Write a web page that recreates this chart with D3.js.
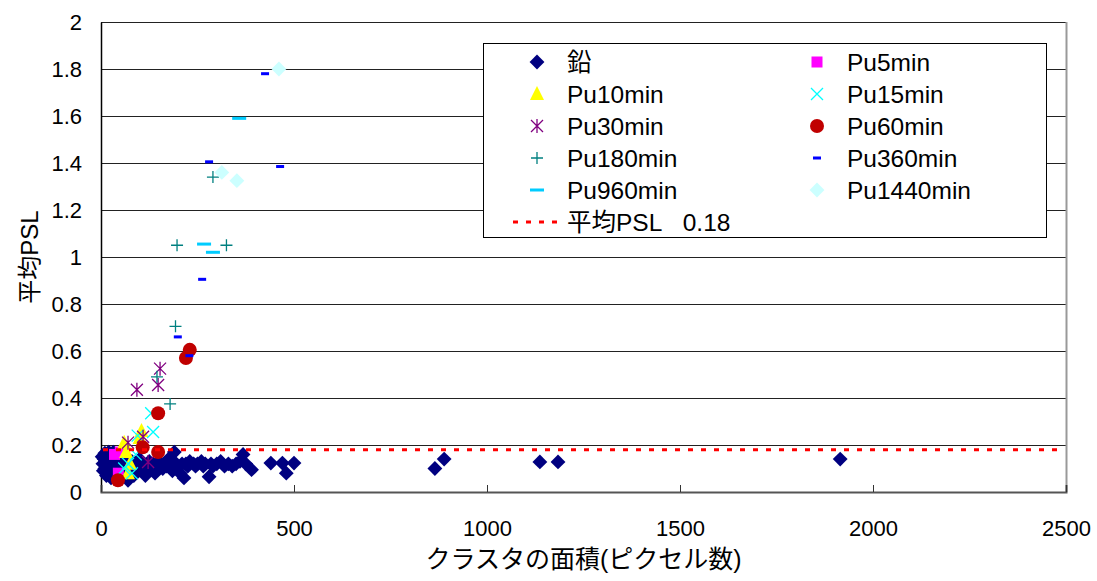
<!DOCTYPE html>
<html>
<head>
<meta charset="utf-8">
<script src="https://cdn.jsdelivr.net/npm/d3@7"></script>
<style>
  body { margin: 0; background: #fff; }
  svg text { font-family: "Liberation Sans", "Noto Sans CJK JP", sans-serif; fill: #000; }
</style>
</head>
<body>
<svg id="chart"></svg>
<script>
// series data: [area in pixels, mean PSL]
const lead = [
  [3,0.15],[5,0.12],[6,0.09],[8,0.14],[10,0.10],[10,0.165],[12,0.13],[14,0.07],[15,0.11],[18,0.15],
  [20,0.12],[20,0.17],[22,0.09],[25,0.14],[26,0.06],[28,0.12],[30,0.10],[32,0.17],[33,0.13],[35,0.16],
  [36,0.07],[38,0.11],[40,0.08],[42,0.13],[45,0.12],[48,0.06],[50,0.10],[55,0.14],
  [60,0.12],[65,0.09],[70,0.05],[75,0.11],[80,0.13],[85,0.07],[90,0.12],[95,0.10],[100,0.14],[105,0.12],
  [110,0.09],[115,0.07],[120,0.11],[125,0.13],[130,0.10],[135,0.12],[140,0.08],[145,0.11],[150,0.13],
  [155,0.12],[160,0.10],[165,0.12],[170,0.11],[175,0.14],[180,0.12],[185,0.09],[190,0.17],[195,0.12],
  [200,0.11],[205,0.08],[210,0.12],[215,0.06],[220,0.12],[225,0.11],[230,0.13],[240,0.12],[245,0.11],
  [250,0.12],[260,0.13],[265,0.11],[270,0.12],[280,0.065],[285,0.12],[290,0.11],[300,0.12],[310,0.13],
  [320,0.11],[330,0.12],[340,0.11],[350,0.12],[360,0.13],[368,0.16],[375,0.12],[390,0.095],
  [440,0.123],[470,0.123],[480,0.08],[500,0.123],[865,0.10],[889,0.14],[1137,0.128],[1184,0.128],[1915,0.14]
];
const pu5 = [[35,0.16],[50,0.17],[45,0.08]];
const pu10 = [[60,0.21],[65,0.17],[75,0.12],[70,0.08],[105,0.26],[100,0.23]];
const pu15 = [[130,0.335],[135,0.255],[95,0.24],[90,0.16],[60,0.10],[80,0.08],[70,0.12]];
const pu30 = [[93,0.435],[148,0.455],[153,0.525],[70,0.21],[109,0.235],[122,0.128]];
const pu60 = [[230,0.605],[220,0.57],[148,0.335],[108,0.19],[148,0.17],[44,0.05]];
const pu180 = [[197,1.05],[325,1.05],[290,1.34],[193,0.705],[145,0.49],[179,0.375]];
const pu360 = [[425,1.78],[280,1.405],[464,1.385],[262,0.905],[199,0.66],[229,0.58]];
const pu960 = [[358,1.59],[267,1.055],[290,1.02]];
const pu1440 = [[461,1.80],[313,1.36],[352,1.325]];
const meanPSL = 0.18;

const xTicks = [0, 500, 1000, 1500, 2000, 2500];
const yTicks = [0, 0.2, 0.4, 0.6, 0.8, 1, 1.2, 1.4, 1.6, 1.8, 2];

const series = [
  {name: "鉛", data: lead, shape: "diamond", color: "#000080"},
  {name: "Pu5min", data: pu5, shape: "square", color: "#FF00FF"},
  {name: "Pu10min", data: pu10, shape: "triangle", color: "#FFFF00"},
  {name: "Pu15min", data: pu15, shape: "x", color: "#00FFFF"},
  {name: "Pu30min", data: pu30, shape: "star", color: "#800080"},
  {name: "Pu60min", data: pu60, shape: "circle", color: "#C00000"},
  {name: "Pu180min", data: pu180, shape: "plus", color: "#008080"},
  {name: "Pu360min", data: pu360, shape: "dash", color: "#0000FF"},
  {name: "Pu960min", data: pu960, shape: "longdash", color: "#00CCFF"},
  {name: "Pu1440min", data: pu1440, shape: "diamond", color: "#CCFFFF"}
];

const W = 1097, H = 581;
const plotL = 101, plotR = 1066, plotT = 22, plotB = 492;

const svg = d3.select("#chart").attr("width", W).attr("height", H);

const x = d3.scaleLinear().domain([0, 2500]).range([plotL, plotR]);
const y = d3.scaleLinear().domain([0, 2]).range([plotB, plotT]);

// gridlines
svg.append("g")
  .selectAll("line")
  .data(yTicks.filter(d => d > 0))
  .join("line")
  .attr("x1", plotL).attr("x2", plotR)
  .attr("y1", d => Math.round(y(d)) + 0.5).attr("y2", d => Math.round(y(d)) + 0.5)
  .attr("stroke", "#222").attr("stroke-width", 1);

// right border
svg.append("line")
  .attr("x1", plotR + 0.5).attr("x2", plotR + 0.5)
  .attr("y1", plotT).attr("y2", plotB)
  .attr("stroke", "#999").attr("stroke-width", 2);

// axes
const yAxis = svg.append("g")
  .attr("transform", `translate(${plotL},0)`)
  .call(d3.axisLeft(y).tickValues(yTicks).tickFormat(d => String(+d.toFixed(1))).tickSize(0).tickPadding(19));
yAxis.select(".domain").attr("stroke", "#000").attr("stroke-width", 1.5);
yAxis.selectAll("text").style("font-size", "22px");

const xAxis = svg.append("g")
  .attr("transform", `translate(0,${plotB})`)
  .call(d3.axisBottom(x).tickValues(xTicks).tickFormat(d3.format("d")).tickSize(-7).tickPadding(28));
xAxis.select(".domain").attr("stroke", "#555").attr("stroke-width", 2);
xAxis.selectAll(".tick line").attr("stroke", "#333");
xAxis.selectAll("text").style("font-size", "22px");

// marker drawing
function drawMarker(g, shape, color) {
  if (shape === "diamond") {
    g.append("path").attr("d", d3.symbol(d3.symbolSquare, 110)()).attr("transform", "rotate(45)").attr("fill", color);
  } else if (shape === "square") {
    g.append("rect").attr("x", -5.5).attr("y", -5.5).attr("width", 11).attr("height", 11).attr("fill", color);
  } else if (shape === "triangle") {
    g.append("path").attr("d", "M0,-8L7,6L-7,6Z").attr("fill", color);
  } else if (shape === "circle") {
    g.append("circle").attr("r", 7).attr("fill", color);
  } else if (shape === "x") {
    g.append("path").attr("d", "M-6,-6L6,6M-6,6L6,-6").attr("stroke", color).attr("stroke-width", 1.3).attr("fill", "none");
  } else if (shape === "star") {
    g.append("path").attr("d", "M-6,-6L6,6M-6,6L6,-6M0,-7L0,7").attr("stroke", color).attr("stroke-width", 1.3).attr("fill", "none");
  } else if (shape === "plus") {
    g.append("path").attr("d", "M-6,0L6,0M0,-6L0,6").attr("stroke", color).attr("stroke-width", 1.3).attr("fill", "none");
  } else if (shape === "dash") {
    g.append("rect").attr("x", -4).attr("y", -1.5).attr("width", 8).attr("height", 3).attr("fill", color);
  } else if (shape === "longdash") {
    g.append("rect").attr("x", -7).attr("y", -1.5).attr("width", 14).attr("height", 3).attr("fill", color);
  }
}

// points
series.forEach(s => {
  svg.append("g")
    .selectAll("g")
    .data(s.data)
    .join("g")
    .attr("transform", d => `translate(${x(d[0])},${y(d[1])})`)
    .each(function() { drawMarker(d3.select(this), s.shape, s.color); });
});

// mean line
svg.append("line")
  .attr("x1", plotL + 2).attr("x2", plotR - 2)
  .attr("y1", y(meanPSL)).attr("y2", y(meanPSL))
  .attr("stroke", "#FF0000").attr("stroke-width", 3)
  .attr("stroke-dasharray", "5,8");

// legend
const legend = svg.append("g");
legend.append("rect")
  .attr("x", 483.5).attr("y", 43.5).attr("width", 563).attr("height", 194)
  .attr("fill", "#fff").attr("stroke", "#000").attr("stroke-width", 1);

const rowY = [62, 94, 126, 158, 190, 222];
series.forEach((s, i) => {
  const col = i % 2, row = Math.floor(i / 2);
  const mx = col === 0 ? 537 : 817;
  const item = legend.append("g");
  const m = item.append("g").attr("transform", `translate(${mx},${rowY[row]})`);
  drawMarker(m, s.shape, s.color);
  item.append("text")
    .attr("x", mx + 30).attr("y", rowY[row])
    .attr("dy", "0.36em")
    .style("font-size", "24.5px")
    .text(s.name);
});
legend.append("line")
  .attr("x1", 513).attr("x2", 559)
  .attr("y1", rowY[5]).attr("y2", rowY[5])
  .attr("stroke", "#FF0000").attr("stroke-width", 3)
  .attr("stroke-dasharray", "5,8");
legend.append("text")
  .attr("x", 567).attr("y", rowY[5])
  .attr("dy", "0.36em")
  .style("font-size", "24.5px")
  .text("平均PSL\u00A0\u00A0\u00A0" + meanPSL);

// axis titles
svg.append("text")
  .attr("x", (plotL + plotR) / 2).attr("y", 568)
  .attr("text-anchor", "middle")
  .style("font-size", "25px")
  .text("クラスタの面積(ピクセル数)");

svg.append("text")
  .attr("transform", `translate(38,${(plotT + plotB) / 2}) rotate(-90)`)
  .attr("text-anchor", "middle")
  .style("font-size", "24px")
  .text("平均PSL");
</script>
</body>
</html>
